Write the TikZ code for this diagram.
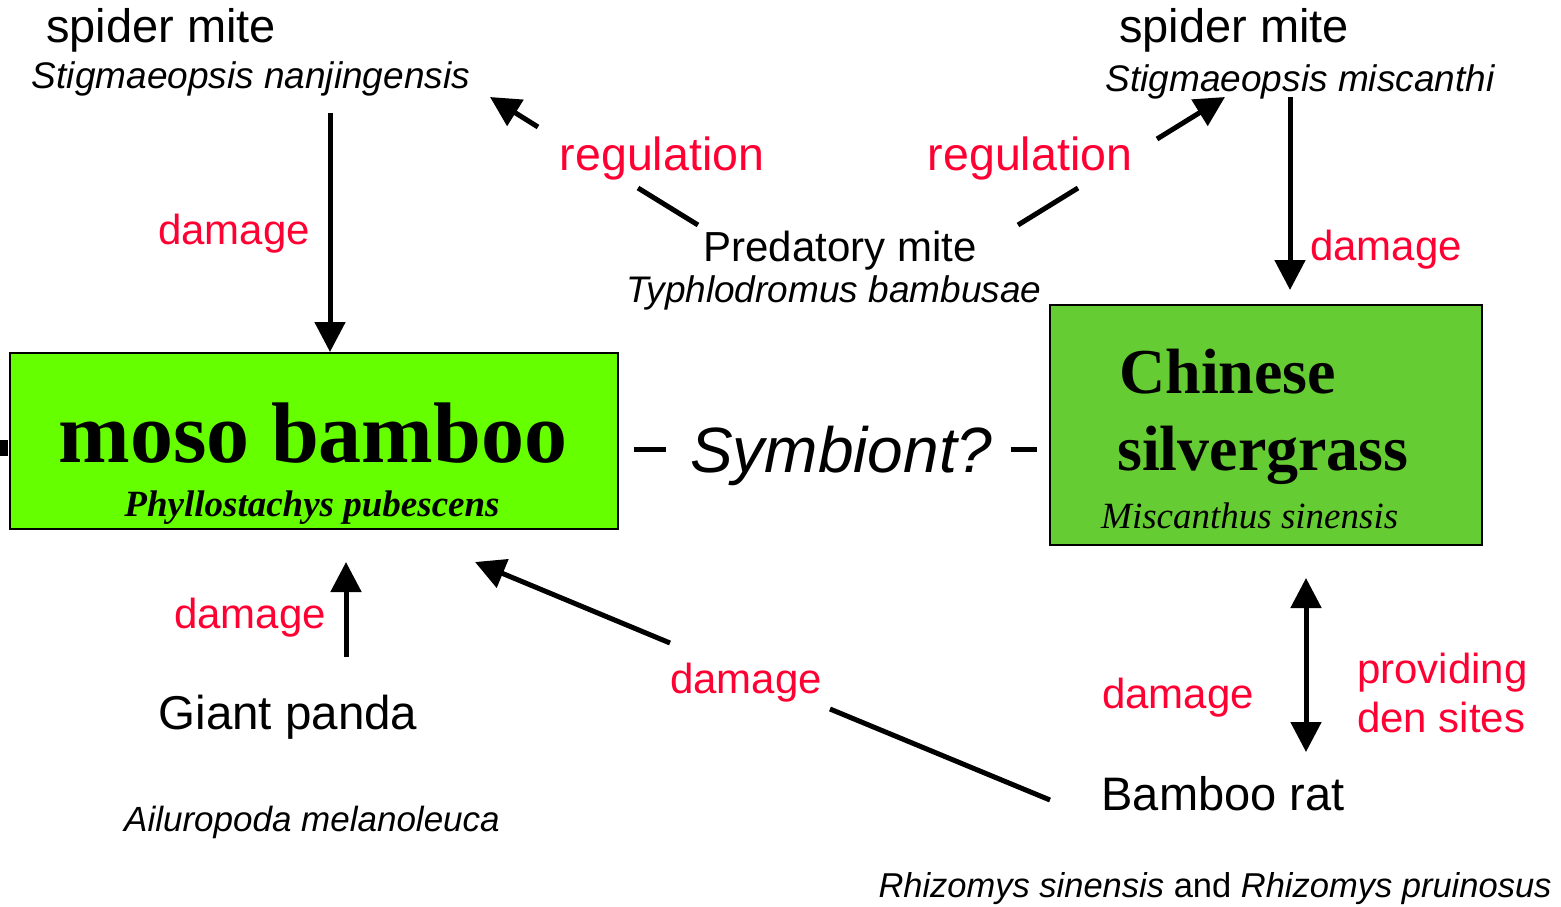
\documentclass[tikz,border=0pt]{standalone}
\usepackage{fontspec}
\setmainfont{Liberation Sans}
\newfontfamily\serifbf{Liberation Serif}
\usetikzlibrary{arrows.meta,calc}
\definecolor{labred}{HTML}{FF0033}
\definecolor{bamboogreen}{HTML}{66FF00}
\definecolor{grassgreen}{HTML}{66CC33}
\newcommand{\fs}[1]{\fontsize{#1}{#1}\selectfont}
\begin{document}
\begin{tikzpicture}[x=1pt,y=-1pt,
  txt/.style={inner sep=0pt, anchor=base, align=center},
  lab/.style={txt, text=labred},
  plantbox/.style={draw=black, line width=1.5pt, inner sep=0pt},
  conn/.style={line width=5pt},
  arr/.style={conn, -{Triangle[length=30pt,width=30pt]}},
  darr/.style={conn, {Triangle[length=30pt,width=30pt]}-{Triangle[length=30pt,width=30pt]}}]
\useasboundingbox (0,0) rectangle (1561,906);

% boxes
\node[plantbox, fill=bamboogreen, minimum width=608pt, minimum height=176pt] (bamboo) at (314,441) {};
\node[plantbox, fill=grassgreen, minimum width=432pt, minimum height=240pt] (grass) at (1266,425) {};
\fill (0,440) rectangle (8,456);

% box texts
\node[txt] (bambootitle) at (313,462) {\serifbf\bfseries\fs{86}moso bamboo};
\node[txt] (bamboosci) at (312,516) {\serifbf\bfseries\itshape\fs{37}Phyllostachys pubescens};
\node[txt, anchor=base west] (grasst1) at (1119,393) {\serifbf\bfseries\fs{64}Chinese};
\node[txt, anchor=base west] (grasst2) at (1117,470) {\serifbf\bfseries\fs{64}silvergrass};
\node[txt, anchor=base west] (grasssci) at (1101,528) {\serifbf\itshape\fs{37}Miscanthus sinensis};

% organism texts
\node[txt] (smL) at (161,42) {\fs{47}spider mite};
\node[txt] (smLsci) at (251,88) {\itshape\fs{37}Stigmaeopsis nanjingensis};
\node[txt] (smR) at (1234,42) {\fs{47}spider mite};
\node[txt] (smRsci) at (1300,91) {\itshape\fs{37}Stigmaeopsis miscanthi};
\node[txt] (pred) at (840,261) {\fs{42}Predatory mite};
\node[txt] (predsci) at (834,302) {\itshape\fs{37}Typhlodromus bambusae};
\node[txt] (panda) at (288,729) {\fs{47.5}Giant panda};
\node[txt] (pandasci) at (312,831) {\itshape\fs{35}Ailuropoda melanoleuca};
\node[txt] (rat) at (1223,810) {\fs{47}Bamboo rat};
\node[txt] (ratsci) at (1215,897) {\fs{34.5}\textit{Rhizomys sinensis} and \textit{Rhizomys pruinosus}};
\node[txt, anchor=base west] (symb) at (634,472) {\fs{64}\rule[20pt]{32pt}{5pt}\hspace{24pt}\textit{Symbiont?}\hspace{18pt}\rule[20pt]{26pt}{5pt}};

% labels
\node[lab] (l1) at (234,244) {\fs{42}damage};
\node[lab] (l2) at (250,628) {\fs{42}damage};
\node[lab] (l3) at (662,170) {\fs{46.5}regulation};
\node[lab] (l4) at (1030,170) {\fs{46.5}regulation};
\node[lab] (l5) at (1386,260) {\fs{42}damage};
\node[lab] (l6) at (746,693) {\fs{42}damage};
\node[lab] (l7) at (1178,708) {\fs{42}damage};
\node[lab, anchor=base west, align=left] (l8) at (1357,732) {\fs{42}providing\\[8pt]\fs{42}den sites};

% connector end points
\coordinate (aLs) at (330,113);
\coordinate (aLe) at (330,352);
\coordinate (aRs) at (1290,97);
\coordinate (aRe) at (1290,290);
\coordinate (aPs) at (346,657);
\coordinate (aPe) at (346,562);
\coordinate (dRs) at (1306,578);
\coordinate (dRe) at (1306,752);
\coordinate (rgL0) at (698,225);
\coordinate (rgL1) at (638,188);
\coordinate (rgL2) at (538,127);
\coordinate (rgL3) at (490,97);
\coordinate (rgR0) at (1018,225);
\coordinate (rgR1) at (1078,188);
\coordinate (rgR2) at (1157,139);
\coordinate (rgR3) at (1225,97);
\coordinate (dm0) at (1050,800);
\coordinate (dm1) at (830,709);
\coordinate (dm2) at (670,643);
\coordinate (dm3) at (475,562);

% connectors
\draw[arr] (aLs) -- (aLe);
\draw[arr] (aRs) -- (aRe);
\draw[arr] (aPs) -- (aPe);
\draw[darr] (dRs) -- (dRe);
\draw[conn] (rgL0) -- (rgL1);
\draw[arr] (rgL2) -- (rgL3);
\draw[conn] (rgR0) -- (rgR1);
\draw[arr] (rgR2) -- (rgR3);
\draw[conn] (dm0) -- (dm1);
\draw[arr] (dm2) -- (dm3);
\end{tikzpicture}
\end{document}
